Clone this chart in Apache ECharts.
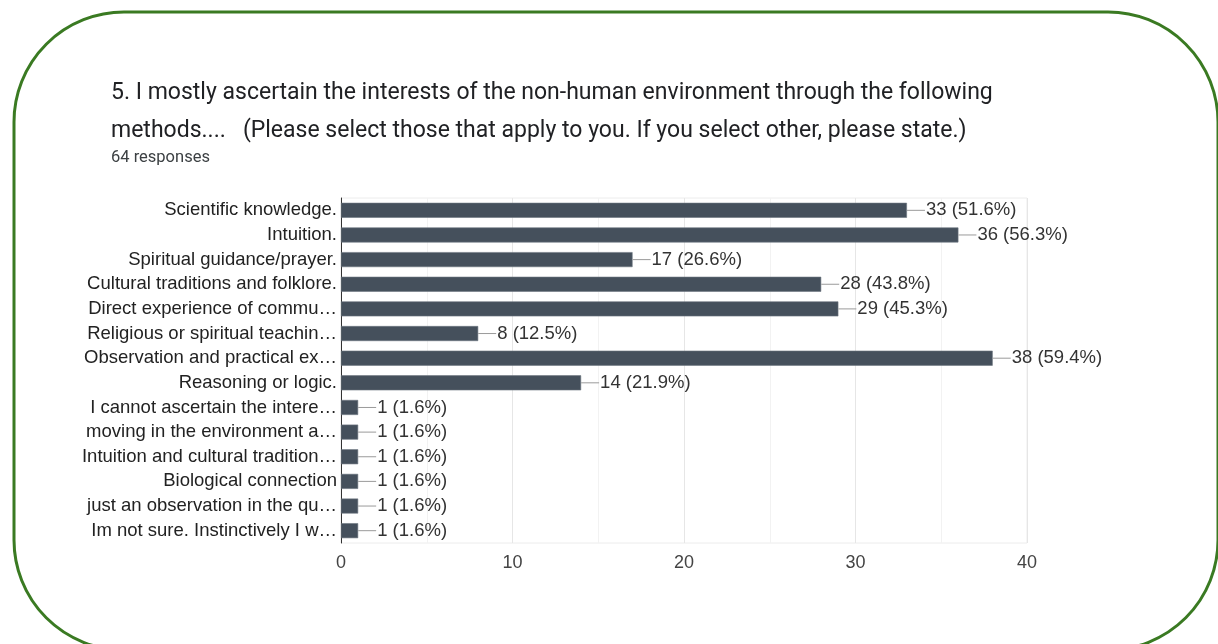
<!DOCTYPE html>
<html>
<head>
<meta charset="utf-8">
<script src="https://cdn.jsdelivr.net/npm/echarts@6/dist/echarts.min.js"></script>
<style>
  html, body { margin: 0; padding: 0; background: #ffffff; }
  #chart { width: 1218px; height: 644px; }
</style>
</head>
<body>
<div id="chart"></div>
<script>
// Survey question 5: methods respondents use (multiple answers allowed)
const questionLine1 = '5. I mostly ascertain the interests of the non-human environment through the following';
const questionLine2 = 'methods....   (Please select those that apply to you. If you select other, please state.)';
const totalResponses = 64;

const categories = [
  'Scientific knowledge.',
  'Intuition.',
  'Spiritual guidance/prayer.',
  'Cultural traditions and folklore.',
  'Direct experience of commu\u2026',
  'Religious or spiritual teachin\u2026',
  'Observation and practical ex\u2026',
  'Reasoning or logic.',
  'I cannot ascertain the intere\u2026',
  'moving in the environment a\u2026',
  'Intuition and cultural tradition\u2026',
  'Biological connection',
  'just an observation in the qu\u2026',
  'Im not sure. Instinctively I w\u2026'
];
const counts = [33, 36, 17, 28, 29, 8, 38, 14, 1, 1, 1, 1, 1, 1];
const xTicks = [0, 10, 20, 30, 40];

const chart = echarts.init(document.getElementById('chart'), null, { renderer: 'canvas' });

const pct = v => (v / totalResponses * 100).toFixed(1) + '%';

chart.setOption({
  animation: false,
  backgroundColor: '#ffffff',
  graphic: [
    {
      type: 'rect',
      shape: { x: 14, y: 12, width: 1204, height: 638, r: 110 },
      style: { fill: 'none', stroke: '#3a7a22', lineWidth: 3 },
      z: 10
    },
    {
      type: 'text', x: 111, y: 93,
      style: { text: questionLine1, font: '23px Roboto', fill: '#202124', textVerticalAlign: 'middle' }
    },
    {
      type: 'text', x: 111, y: 131,
      style: { text: questionLine2, font: '23px Roboto', fill: '#202124', textVerticalAlign: 'middle' }
    },
    {
      type: 'text', x: 111, y: 158,
      style: { text: totalResponses + ' responses', font: '16.5px Roboto', fill: '#3c4043', textVerticalAlign: 'middle' }
    }
  ],
  grid: {
    left: 341, right: 191, top: 198, bottom: 101,
    show: true, borderColor: '#ececec', borderWidth: 1
  },
  xAxis: {
    type: 'value',
    min: xTicks[0], max: xTicks[xTicks.length - 1], interval: 10,
    axisLine: { show: false },
    axisTick: { show: false },
    axisLabel: { color: '#444', fontSize: 18, fontFamily: 'Liberation Sans', margin: 11 },
    splitLine: { lineStyle: { color: '#e6e6e6', width: 1 } },
    minorTick: { show: false, splitNumber: 2 },
    minorSplitLine: { show: true, lineStyle: { color: '#f2f2f2', width: 1 } }
  },
  yAxis: {
    type: 'category',
    data: categories,
    inverse: true,
    axisLine: { show: true, lineStyle: { color: '#333', width: 1 } },
    axisTick: { show: false },
    axisLabel: { interval: 0, color: '#222', fontSize: 18.5, fontFamily: 'Liberation Sans', margin: 4 }
  },
  series: [{
    type: 'bar',
    data: counts,
    barWidth: 15,
    itemStyle: { color: '#45505c', borderColor: '#6b7580', borderWidth: 0.6 },
    label: {
      show: true,
      position: 'right',
      distance: 0,
      formatter: p => '{ln|}{v|' + p.value + ' (' + pct(p.value) + ')}',
      rich: {
        ln: { width: 18, height: 1, backgroundColor: '#9a9a9a', verticalAlign: 'middle' },
        v: { color: '#333', fontSize: 18.5, fontFamily: 'Liberation Sans', padding: [0, 0, 0, 1] }
      }
    }
  }]
});
</script>
</body>
</html>
